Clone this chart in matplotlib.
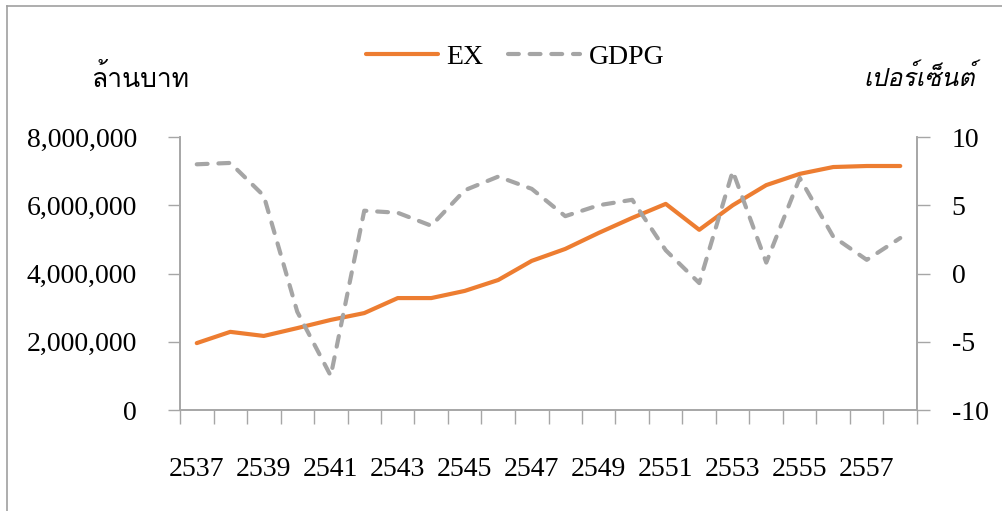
import matplotlib
matplotlib.use("Agg")
import matplotlib.pyplot as plt
from matplotlib import font_manager
from matplotlib.ft2font import FT2Font
from matplotlib.lines import Line2D
from matplotlib.ticker import FuncFormatter

years = [str(y) for y in range(2537, 2559)]
ex = [1960000, 2290000, 2170000, 2400000, 2640000, 2840000, 3280000, 3280000,
      3490000, 3810000, 4370000, 4720000, 5190000, 5630000, 6040000, 5280000,
      6000000, 6590000, 6920000, 7120000, 7150000, 7150000]
gdpg = [8.0, 8.1, 5.7, -2.8, -7.5, 4.6, 4.45, 3.5, 6.1, 7.1, 6.2, 4.2,
        5.0, 5.4, 1.7, -0.7, 7.5, 0.8, 7.0, 2.7, 1.0, 2.6]
left_label = "ล้านบาท"
right_label = "เปอร์เซ็นต์"

W, H = 1003, 511


def find_thai_font():
    # look for any installed font that covers Thai
    for f in font_manager.fontManager.ttflist:
        try:
            cmap = FT2Font(f.fname).get_charmap()
        except Exception:
            continue
        if ord("ล") in cmap and ord("้") in cmap:
            return f.name
    return None


thai = find_thai_font()
serif = "Liberation Serif"
thai_family = [serif, thai] if thai else [serif, "DejaVu Sans"]

plt.rcParams["font.family"] = serif
plt.rcParams["axes.unicode_minus"] = False

fig = plt.figure(figsize=(W / 100, H / 100), dpi=100)
ax = fig.add_axes([180 / W, 1 - 410 / H, (917 - 180) / W, (410 - 137) / H])
ax2 = ax.twinx()

x = list(range(len(years)))
ax.plot(x, ex, color="#ED7D31", linewidth=3.0, solid_capstyle="round", label="EX")
ax2.plot(x, gdpg, color="#A5A5A5", linewidth=3.0, linestyle=(0, (2.6, 2.6)),
         dash_capstyle="round", label="GDPG")

ax.set_xlim(-0.5, len(years) - 0.5)
ax.set_ylim(0, 8000000)
ax.set_yticks(range(0, 8000001, 2000000))
ax.yaxis.set_major_formatter(FuncFormatter(lambda v, p: f"{int(v):,}"))
ax2.set_ylim(-10, 10)
ax2.set_yticks([-10, -5, 0, 5, 10])

ax.set_xticks(x[::2])
ax.set_xticklabels(years[::2])
ax.set_xticks([i - 0.5 for i in range(len(years) + 1)], minor=True)
ax.tick_params(axis="x", which="major", length=0, pad=34, labelsize=20)
ax.tick_params(axis="x", which="minor", length=10, width=1, color="#A6A6A6")
ax.tick_params(axis="y", length=9, width=1, color="#A6A6A6", labelsize=20, pad=22)
ax2.tick_params(axis="y", length=9, width=1, color="#A6A6A6", labelsize=20, pad=16)

for a in (ax, ax2):
    a.spines["top"].set_visible(False)
    for s in ("left", "right", "bottom"):
        a.spines[s].set_color("#A6A6A6")
        a.spines[s].set_linewidth(1.2)

lines = ax.get_lines() + ax2.get_lines()
fig.legend(lines, [l.get_label() for l in lines], loc="center",
           bbox_to_anchor=(515 / W, 1 - 57 / H), ncol=2, frameon=False,
           fontsize=20, handlelength=2.6, handletextpad=0.3, columnspacing=0.9)

fig.text(92 / W, 1 - 78 / H, left_label, family=thai_family, fontsize=19,
         va="center", ha="left")
fig.text(975 / W, 1 - 78 / H, right_label, family=thai_family, fontsize=18,
         style="italic", va="center", ha="right")

# frame lines visible only on top and left of the original picture
fig.add_artist(Line2D([7 / W, 7 / W], [0, 1 - 6 / H], transform=fig.transFigure,
                      color="#A0A0A0", linewidth=1.2))
fig.add_artist(Line2D([7 / W, 1], [1 - 6 / H, 1 - 6 / H], transform=fig.transFigure,
                      color="#A0A0A0", linewidth=1.2))

fig.savefig("out.png", dpi=100)
